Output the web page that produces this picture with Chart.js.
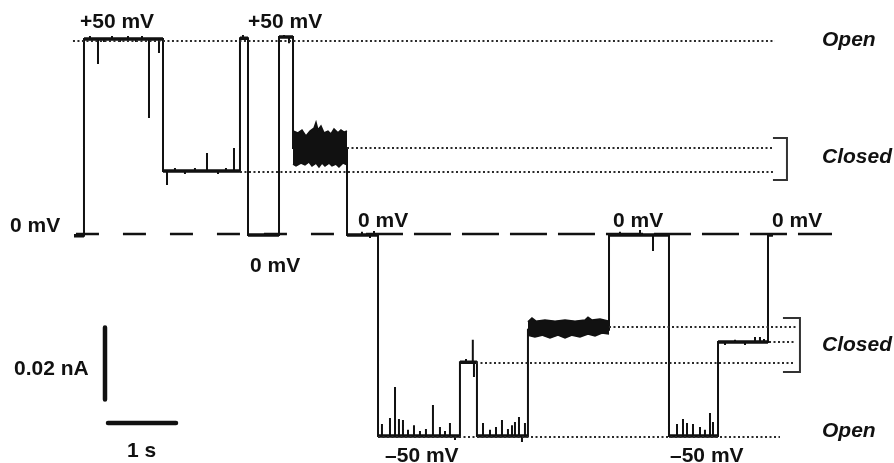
<!DOCTYPE html>
<html>
<head>
<meta charset="utf-8">
<script src="https://cdn.jsdelivr.net/npm/chart.js@4.4.0/dist/chart.umd.min.js"></script>
<style>
  html, body { margin: 0; padding: 0; background: #fff; overflow: hidden; }
</style>
</head>
<body>
<canvas id="traceChart" width="894" height="463"></canvas>
<script>
// time in s, current in pA
const stepT = [0, 0.147, 1.309, 2.441, 2.559, 3.015, 3.221, 4.015, 4.471, 5.676, 5.926, 6.676, 7.868, 8.75, 9.471, 10.206, 10.279];
const stepI = [-0.5, 54.2, 17.5, 54.4, -0.3, 54.7, 23.9, -0.3, -56.1, -35.6, -56.1, -26.6, -0.3, -56.1, -30.0, -0.3];

const spikeT = [0.235, 0.353, 0.441, 0.559, 0.676, 0.794, 0.912, 1.0, 1.103, 1.191, 1.25,
    1.368, 1.485, 1.632, 1.779, 1.956, 2.118, 2.235, 2.353,
    2.485, 3.088, 3.162,
    4.235, 4.353, 4.412,
    4.529, 4.647, 4.721, 4.779, 4.838, 4.912, 5.0, 5.088, 5.176, 5.279, 5.382, 5.456, 5.529, 5.603,
    5.765, 5.865, 5.882,
    6.015, 6.118, 6.206, 6.294, 6.382, 6.441, 6.485, 6.544, 6.588, 6.632,
    8.029, 8.324, 8.515,
    8.868, 8.956, 9.015, 9.103, 9.206, 9.279, 9.353, 9.397,
    9.574, 9.721, 9.868, 10.015, 10.088, 10.147];
const spikeI = [55.0, 47.2, 53.3, 55.0, 53.3, 55.0, 53.3, 55.0, 32.2, 53.3, 50.3,
    13.6, 18.3, 16.7, 18.3, 22.5, 16.7, 18.3, 23.9,
    55.3, 55.3, 53.0,
    0.6, -1.1, 0.8,
    -52.8, -51.1, -42.5, -51.4, -51.7, -54.4, -53.1, -54.7, -54.2, -47.5, -53.6, -54.7, -52.5, -57.2,
    -34.7, -29.4, -39.7,
    -52.5, -54.4, -53.6, -51.7, -54.2, -53.1, -52.2, -50.8, -57.8, -52.5,
    0.6, 1.1, -4.7,
    -52.8, -51.4, -52.5, -52.8, -53.6, -54.4, -49.7, -52.2,
    -30.8, -29.4, -30.8, -28.6, -28.6, -29.2];

// flickering block at +50 mV
const blockTopT = [3.221, 3.294, 3.353, 3.412, 3.471, 3.529, 3.559, 3.588, 3.632, 3.676, 3.735, 3.779, 3.824, 3.882, 3.926, 3.971, 4.015];
const blockTopI = [28.6, 28.1, 28.9, 27.2, 28.6, 29.4, 31.0, 28.9, 30.0, 28.1, 28.6, 27.8, 29.2, 28.1, 28.9, 28.3, 28.6];
const blockBotT = [3.221, 3.265, 3.338, 3.397, 3.456, 3.5, 3.559, 3.603, 3.647, 3.691, 3.75, 3.794, 3.853, 3.897, 3.956, 4.015];
const blockBotI = [19.4, 18.9, 19.7, 19.2, 20.0, 18.9, 19.7, 18.6, 19.7, 18.9, 19.7, 18.9, 19.4, 18.6, 19.7, 19.2];

// flickering band at -50 mV
const bandTopT = [6.676, 6.735, 6.794, 6.926, 7.074, 7.221, 7.368, 7.515, 7.559, 7.618, 7.735, 7.868];
const bandTopI = [-24.4, -23.3, -24.2, -23.9, -24.2, -23.9, -24.2, -23.9, -23.1, -23.9, -23.6, -24.2];
const bandBotT = [6.676, 6.779, 6.882, 7.0, 7.118, 7.221, 7.324, 7.441, 7.559, 7.662, 7.765, 7.868];
const bandBotI = [-28.1, -28.6, -28.1, -28.9, -28.1, -28.9, -28.1, -28.6, -27.8, -28.3, -27.5, -27.8];

// open / closed reference levels
const refStart = [-0.015, 4.015, 2.441, 4.471, 7.868, 10.221, 5.912];
const refEnd = [10.309, 10.279, 10.279, 10.382, 10.632, 10.603, 10.603];
const refI = [53.6, 23.9, 17.2, -56.4, -25.8, -30.0, -35.8];

const baseT = [0.029, 4.132, 4.294, 11.147];

const bracketUpT = [10.279, 10.485, 10.485, 10.279];
const bracketUpI = [26.7, 26.7, 15.0, 15.0];
const bracketLoT = [10.426, 10.676, 10.676, 10.426];
const bracketLoI = [-23.3, -23.3, -38.3, -38.3];

const ampBarT = [0.456, 0.456];
const ampBarI = [-26, -46];
const timeBarT = [0.5, 1.5];
const timeBarI = [-52.5, -52.5];

const notes = [
    {text: '+50 mV', t: 0.088, i: 57.2},
    {text: '+50 mV', t: 2.559, i: 57.2},
    {text: 'Open', t: 11.0, i: 52.2, italic: true},
    {text: 'Closed', t: 11.0, i: 19.7, italic: true},
    {text: '0 mV', t: -0.941, i: 0.56},
    {text: '0 mV', t: 4.176, i: 1.94},
    {text: '0 mV', t: 2.588, i: -10.56},
    {text: '0 mV', t: 7.926, i: 1.94},
    {text: '0 mV', t: 10.265, i: 1.94},
    {text: 'Closed', t: 11.0, i: -32.5, italic: true},
    {text: 'Open', t: 11.0, i: -56.4, italic: true},
    {text: '\u201350 mV', t: 4.574, i: -63.3},
    {text: '\u201350 mV', t: 8.765, i: -63.3},
    {text: '0.02 nA', t: -0.882, i: -39.2},
    {text: '1 s', t: 0.779, i: -61.9}
];

const zip = (ts, is) => ts.map((t, k) => ({x: t, y: is[k]}));

buildTrace = () => {
    const pts = [];
    for (let s = 0; s < stepI.length; s++) {
        const t0 = stepT[s];
        const t1 = stepT[s + 1];
        const lvl = stepI[s];
        pts.push({x: t0, y: lvl});
        spikeT.forEach((t, k) => {
            if (t > t0 && t < t1) {
                pts.push({x: t, y: lvl});
                pts.push({x: t, y: spikeI[k]});
                pts.push({x: t, y: lvl});
            }
        });
        pts.push({x: t1, y: lvl});
    }
    return pts;
}

// the dwell levels themselves are a bit thicker than the jumps
buildLevels = () => {
    const pts = [];
    stepI.forEach((lvl, s) => {
        pts.push({x: stepT[s], y: lvl});
        pts.push({x: stepT[s + 1], y: lvl});
        pts.push({x: stepT[s + 1], y: null});
    });
    return pts;
}

const line = (data, extra) => Object.assign({
    data: data,
    borderColor: '#111',
    backgroundColor: '#111',
    borderWidth: 2,
    pointRadius: 0,
    fill: false,
    tension: 0,
    spanGaps: false
}, extra);

const datasets = [];
refI.forEach((lvl, k) => {
    datasets.push(line([{x: refStart[k], y: lvl}, {x: refEnd[k], y: lvl}], {
        borderColor: '#2a2a2a', borderWidth: 2, borderDash: [2, 2.5]
    }));
});
datasets.push(line([{x: baseT[0], y: 0}, {x: baseT[1], y: 0}], {borderWidth: 2.5, borderDash: [23, 24]}));
datasets.push(line([{x: baseT[2], y: 0}, {x: baseT[3], y: 0}], {borderWidth: 2.5, borderDash: [37, 11]}));
datasets.push(line(zip(blockTopT, blockTopI), {borderWidth: 1.5}));
datasets.push(line(zip(blockBotT, blockBotI), {borderWidth: 1.5, fill: '-1'}));
datasets.push(line(zip(bandTopT, bandTopI), {borderWidth: 1.5}));
datasets.push(line(zip(bandBotT, bandBotI), {borderWidth: 1.5, fill: '-1'}));
datasets.push(line(buildLevels(), {borderWidth: 3.5}));
datasets.push(line(buildTrace(), {borderWidth: 2}));
datasets.push(line(zip(bracketUpT, bracketUpI), {borderColor: '#333', borderWidth: 2}));
datasets.push(line(zip(bracketLoT, bracketLoI), {borderColor: '#333', borderWidth: 2}));
datasets.push(line(zip(ampBarT, ampBarI), {borderWidth: 4.5, borderCapStyle: 'round'}));
datasets.push(line(zip(timeBarT, timeBarI), {borderWidth: 4.5, borderCapStyle: 'round'}));

const notePlugin = {
    id: 'notes',
    afterDatasetsDraw(chart) {
        const ctx = chart.ctx;
        const xs = chart.scales.x;
        const ys = chart.scales.y;
        ctx.save();
        ctx.fillStyle = '#111';
        ctx.textAlign = 'left';
        ctx.textBaseline = 'alphabetic';
        for (const n of notes) {
            ctx.font = (n.italic ? 'italic ' : '') + 'bold 21px "Liberation Sans", Arial, sans-serif';
            ctx.fillText(n.text, xs.getPixelForValue(n.t), ys.getPixelForValue(n.i));
        }
        ctx.restore();
    }
};

new Chart(document.getElementById('traceChart'), {
    type: 'line',
    data: {datasets: datasets},
    options: {
        responsive: false,
        animation: false,
        layout: {padding: 0},
        plugins: {
            legend: {display: false},
            tooltip: {enabled: false}
        },
        scales: {
            x: {type: 'linear', display: false, min: -1.088, max: 12.059},
            y: {type: 'linear', display: false, min: -63.61, max: 65.0}
        }
    },
    plugins: [notePlugin]
});
</script>
</body>
</html>
